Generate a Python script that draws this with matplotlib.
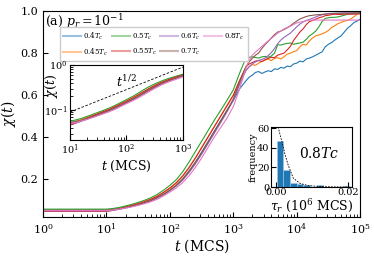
import numpy as np
import matplotlib
matplotlib.use('Agg')
import matplotlib.pyplot as plt
from matplotlib.lines import Line2D

plt.rcParams['font.family'] = 'DejaVu Serif'
plt.rcParams['mathtext.fontset'] = 'dejavuserif'

## Data

# time grid, as exponents of 10 (MCS); finer where the curves get noisy
log_t = [0.0, 1.0, 1.1, 1.2, 1.3, 1.4, 1.5, 1.6, 1.7, 1.8, 1.9,
         2.0, 2.1, 2.2, 2.3, 2.4, 2.5, 2.6, 2.7, 2.8, 2.9,
         3.0, 3.1, 3.2,
         3.25, 3.3, 3.35, 3.4, 3.45, 3.5, 3.55, 3.6, 3.65, 3.7, 3.75, 3.8,
         3.85, 3.9, 3.95, 4.0, 4.05, 4.1, 4.15, 4.2, 4.25, 4.3, 4.35, 4.4,
         4.45, 4.5, 4.55, 4.6, 4.65, 4.7, 4.75, 4.8, 4.85, 4.9, 4.95, 5.0]

chi_040 = [0.053, 0.053, 0.056, 0.060, 0.066, 0.072, 0.080, 0.088, 0.098, 0.111, 0.127,
           0.146, 0.170, 0.200, 0.238, 0.280, 0.328, 0.378, 0.428, 0.478, 0.528,
           0.575, 0.630, 0.668,
           0.685, 0.695, 0.708, 0.712, 0.703, 0.710, 0.716, 0.712, 0.725, 0.722, 0.732, 0.728,
           0.738, 0.735, 0.748, 0.752, 0.762, 0.758, 0.772, 0.776, 0.782, 0.790, 0.798, 0.806,
           0.830, 0.842, 0.850, 0.862, 0.872, 0.882, 0.900, 0.918, 0.930, 0.945, 0.952, 0.962]
chi_045 = [0.052, 0.052, 0.056, 0.061, 0.068, 0.075, 0.083, 0.092, 0.103, 0.117, 0.135,
           0.155, 0.180, 0.212, 0.252, 0.298, 0.348, 0.398, 0.448, 0.498, 0.548,
           0.598, 0.668, 0.718,
           0.735, 0.745, 0.742, 0.752, 0.760, 0.766, 0.772, 0.764, 0.775, 0.778, 0.772, 0.782,
           0.795, 0.800, 0.806, 0.812, 0.830, 0.842, 0.838, 0.858, 0.872, 0.882, 0.886, 0.892,
           0.898, 0.908, 0.922, 0.930, 0.940, 0.946, 0.952, 0.955, 0.962, 0.972, 0.985, 0.993]
chi_050 = [0.057, 0.057, 0.060, 0.065, 0.072, 0.080, 0.089, 0.099, 0.111, 0.127, 0.147,
           0.170, 0.197, 0.234, 0.280, 0.330, 0.380, 0.430, 0.480, 0.527, 0.575,
           0.625, 0.705, 0.778,
           0.780, 0.782, 0.779, 0.776, 0.782, 0.784, 0.780, 0.786, 0.800, 0.840, 0.838, 0.843,
           0.846, 0.848, 0.842, 0.845, 0.848, 0.852, 0.865, 0.882, 0.892, 0.905, 0.925, 0.950,
           0.965, 0.968, 0.970, 0.970, 0.972, 0.976, 0.980, 0.985, 0.987, 0.988, 0.989, 0.990]
chi_055 = [0.046, 0.046, 0.051, 0.058, 0.066, 0.074, 0.083, 0.093, 0.104, 0.119, 0.137,
           0.158, 0.183, 0.215, 0.255, 0.300, 0.350, 0.400, 0.450, 0.500, 0.550,
           0.600, 0.670, 0.735,
           0.748, 0.755, 0.762, 0.764, 0.760, 0.768, 0.775, 0.780, 0.778, 0.790, 0.795, 0.800,
           0.815, 0.832, 0.860, 0.880, 0.900, 0.915, 0.935, 0.950, 0.955, 0.962, 0.968, 0.972,
           0.978, 0.980, 0.983, 0.985, 0.984, 0.984, 0.985, 0.986, 0.985, 0.985, 0.986, 0.986]
chi_060 = [0.049, 0.049, 0.051, 0.056, 0.062, 0.069, 0.077, 0.086, 0.097, 0.110, 0.126,
           0.145, 0.167, 0.195, 0.230, 0.272, 0.318, 0.368, 0.418, 0.468, 0.520,
           0.575, 0.650, 0.718,
           0.735, 0.748, 0.758, 0.765, 0.770, 0.776, 0.788, 0.802, 0.822, 0.845, 0.862, 0.875,
           0.885, 0.895, 0.910, 0.925, 0.938, 0.948, 0.955, 0.960, 0.966, 0.972, 0.978, 0.982,
           0.986, 0.988, 0.989, 0.990, 0.990, 0.990, 0.991, 0.991, 0.991, 0.991, 0.992, 0.992]
chi_070 = [0.051, 0.051, 0.055, 0.059, 0.065, 0.071, 0.079, 0.088, 0.098, 0.112, 0.128,
           0.148, 0.170, 0.198, 0.235, 0.278, 0.325, 0.375, 0.425, 0.475, 0.525,
           0.582, 0.662, 0.735,
           0.758, 0.775, 0.790, 0.800, 0.822, 0.840, 0.855, 0.872, 0.888, 0.900, 0.905, 0.912,
           0.920, 0.930, 0.942, 0.952, 0.962, 0.968, 0.974, 0.978, 0.980, 0.982, 0.983, 0.984,
           0.985, 0.986, 0.987, 0.988, 0.989, 0.990, 0.990, 0.990, 0.991, 0.991, 0.991, 0.992]
chi_080 = [0.050, 0.050, 0.053, 0.057, 0.062, 0.068, 0.075, 0.083, 0.092, 0.104, 0.120,
           0.138, 0.158, 0.183, 0.215, 0.255, 0.300, 0.350, 0.400, 0.445, 0.490,
           0.545, 0.630, 0.730,
           0.765, 0.790, 0.805, 0.818, 0.832, 0.845, 0.858, 0.870, 0.882, 0.895, 0.905, 0.915,
           0.922, 0.928, 0.936, 0.943, 0.947, 0.950, 0.954, 0.957, 0.957, 0.957, 0.957, 0.957,
           0.957, 0.957, 0.957, 0.957, 0.957, 0.957, 0.957, 0.957, 0.957, 0.957, 0.957, 0.957]

labels = [r'$0.4T_c$', r'$0.45T_c$', r'$0.5T_c$', r'$0.55T_c$',
          r'$0.6T_c$', r'$0.7T_c$', r'$0.8T_c$']
colors = ['tab:blue', 'tab:orange', 'tab:green', 'tab:red',
          'tab:purple', 'tab:brown', 'tab:pink']

# t^{1/2} guide line in the inset (end points)
guide_t = [10, 1000]
guide_chi = [0.09, 0.9]

# histogram of tau_r at 0.8Tc
bin_left = [0.0002, 0.00205, 0.0039, 0.00575, 0.0076, 0.00945,
            0.0113, 0.01315, 0.015, 0.01685, 0.0187]
bin_width = 0.00185
counts = [47, 17, 4, 3, 2, 0, 2, 0, 0, 0, 1]

# dotted fit over the histogram
fit_x = [0.0003, 0.0006, 0.0012, 0.0018, 0.0025, 0.0034, 0.0048,
         0.0067, 0.009, 0.012, 0.016, 0.020]
fit_y = [70, 61, 52, 44, 33, 22, 9, 3.7, 1.5, 0.6, 0.2, 0.1]

## Plot

t = 10 ** np.array(log_t)
series = [chi_040, chi_045, chi_050, chi_055, chi_060, chi_070, chi_080]

fig = plt.figure(figsize=(3.74, 2.57), dpi=100)
ax = fig.add_axes([0.115, 0.156, 0.848, 0.801])

for chi, c in zip(series, colors):
    ax.plot(t, chi, color=c, lw=0.8)

ax.set_xscale('log')
ax.set_xlim(1, 1e5)
ax.set_ylim(0.02, 1.0)
ax.set_yticks([0.2, 0.4, 0.6, 0.8, 1.0])
ax.tick_params(which='both', direction='in', labelsize=8)
ax.set_xlabel(r'$t$ (MCS)', fontsize=10, labelpad=1)
ax.set_ylabel(r'$\chi(t)$', fontsize=10, labelpad=2)
ax.text(0.005, 0.995, r'(a) $p_r=10^{-1}$', transform=ax.transAxes,
        fontsize=9, va='top', ha='left')

handles = [Line2D([], [], color=c, lw=1.5, alpha=0.45) for c in colors]
ax.legend(handles, labels, ncol=4, fontsize=5, loc='upper left',
          bbox_to_anchor=(0.053, 0.923), borderaxespad=0, handlelength=2.6,
          columnspacing=0.5, handletextpad=0.3, labelspacing=0.7,
          borderpad=0.5, fancybox=False, framealpha=1)

# inset 1: log-log early growth
ax1 = fig.add_axes([0.187, 0.455, 0.302, 0.292])
for chi, c in zip(series, colors):
    ax1.plot(t, chi, color=c, lw=0.8)
ax1.plot(guide_t, guide_chi, color='k', lw=0.6, linestyle=(0, (3, 2)))
ax1.set_xscale('log')
ax1.set_yscale('log')
ax1.set_xlim(10, 1000)
ax1.set_ylim(0.0215, 1.0)
ax1.tick_params(which='both', direction='in', labelsize=7, pad=2)
ax1.set_xlabel(r'$t$ (MCS)', fontsize=9, labelpad=1)
ax1.set_ylabel(r'$\chi(t)$', fontsize=9)
ax1.yaxis.set_label_coords(-0.09, 0.72)
ax1.text(0.5, 0.77, r'$t^{1/2}$', transform=ax1.transAxes, fontsize=9,
         ha='center', va='center')

# inset 2: histogram of tau_r
ax2 = fig.add_axes([0.7246, 0.272, 0.2166, 0.2335])
ax2.bar(bin_left, counts, width=bin_width, align='edge', color='tab:blue',
        edgecolor='#a6c8e6', linewidth=0.4)
ax2.plot(fit_x, fit_y, color='k', lw=0.6, linestyle=(0, (2, 1.5)))
ax2.set_xlim(-0.0014, 0.0211)
ax2.set_ylim(0, 61)
ax2.set_xticks([0.0, 0.02])
ax2.set_xticklabels(['0.00', '0.02'])
ax2.set_yticks([0, 20, 40, 60])
ax2.tick_params(which='both', direction='in', labelsize=7, pad=1)
ax2.set_xlabel(r'$\tau_r$ ($10^6$ MCS)', fontsize=9, labelpad=0)
ax2.set_ylabel('frequency', fontsize=7, labelpad=0)
ax2.text(0.6, 0.56, r'0.8$Tc$', transform=ax2.transAxes, fontsize=10,
         ha='center', va='center')

fig.savefig('out.png', dpi=100)
